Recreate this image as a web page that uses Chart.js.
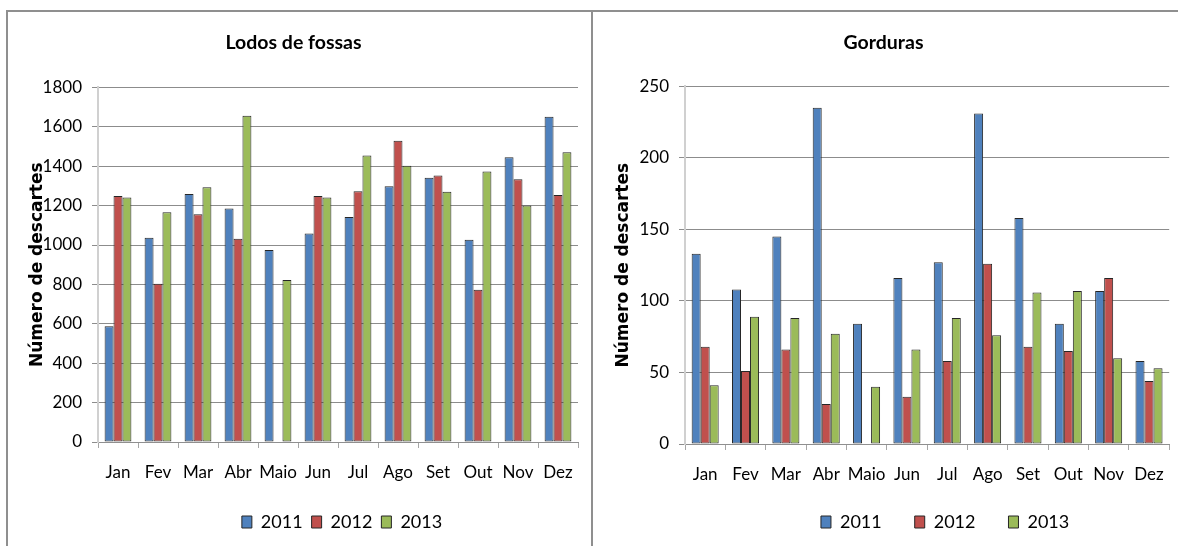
<!DOCTYPE html>
<html>
<head>
<meta charset="utf-8">
<script src="https://cdn.jsdelivr.net/npm/chart.js@4.4.0/dist/chart.umd.min.js"></script>
<style>
  body { margin: 0; background: #fff; width: 1178px; height: 546px; overflow: hidden; position: relative; }
  .line { position: absolute; background: #8f8f8f; }
  canvas { position: absolute; }
</style>
</head>
<body>
<div class="line" style="left:7px;top:10px;width:1171px;height:2px"></div>
<div class="line" style="left:6px;top:10px;width:2px;height:536px"></div>
<div class="line" style="left:591px;top:10px;width:2px;height:536px"></div>
<canvas id="lodos" style="left:9px;top:12px" width="582" height="534"></canvas>
<canvas id="gorduras" style="left:595px;top:12px" width="583" height="534"></canvas>
<script>
const months = ["Jan", "Fev", "Mar", "Abr", "Maio", "Jun", "Jul", "Ago", "Set", "Out", "Nov", "Dez"];
const years = ["2011", "2012", "2013"];

const lodos2011 = [588, 1037, 1259, 1185, 975, 1058, 1142, 1298, 1342, 1027, 1446, 1651];
const lodos2012 = [1249, 803, 1156, 1032, null, 1249, 1273, 1529, 1353, 773, 1334, 1254];
const lodos2013 = [1241, 1166, 1293, 1656, 822, 1241, 1454, 1402, 1270, 1373, 1200, 1471];

const gord2011 = [133, 108, 145, 235, 84, 116, 127, 231, 158, 84, 107, 58];
const gord2012 = [68, 51, 66, 28, null, 33, 58, 126, 68, 65, 116, 44];
const gord2013 = [41, 89, 88, 77, 40, 66, 88, 76, 106, 107, 60, 53];

const lodosTicks = [0, 200, 400, 600, 800, 1000, 1200, 1400, 1600, 1800];
const gordTicks = [0, 50, 100, 150, 200, 250];

const colors = ["#4f81bd", "#c0504d", "#9bbb59"];
const face = "Lato, 'Liberation Sans', sans-serif";

// moves the legend row to a fixed spot after layout (keeps the plot area where it belongs)
const legendPlace = {
  id: "legendPlace",
  afterLayout(chart, args, opts) {
    const lg = chart.legend;
    if (!lg) return;
    const pad = lg.options.labels.padding;
    const dy = opts.rowTop - (lg.top + pad);
    lg.top += dy; lg.bottom += dy;
    lg.left += opts.dx; lg.right += opts.dx;
  }
};

function makeChart(id, title, series, ticks, opt) {
  new Chart(document.getElementById(id), {
    type: "bar",
    data: {
      labels: months,
      datasets: series.map((s, i) => ({
        label: years[i],
        data: s,
        backgroundColor: colors[i],
        borderColor: "#262626",
        borderWidth: 1,
        borderSkipped: false,
        categoryPercentage: 0.67,
        barPercentage: 1.0
      }))
    },
    plugins: [legendPlace],
    options: {
      responsive: false,
      animation: false,
      layout: { padding: { left: 0, right: opt.padRight, top: 0, bottom: opt.padBottom } },
      plugins: {
        title: {
          display: true,
          text: title,
          color: "#000",
          font: { family: face, size: 19.5, weight: "bold" },
          padding: { top: 19, bottom: opt.titleBottom }
        },
        legend: {
          position: "bottom",
          fullSize: false,
          labels: {
            color: "#000",
            font: { family: face, size: 18 },
            boxWidth: 10,
            boxHeight: 12,
            padding: opt.legendPad
          }
        },
        legendPlace: { rowTop: 501, dx: opt.legendDx },
        tooltip: { enabled: false }
      },
      scales: {
        x: {
          grid: { drawOnChartArea: false, drawTicks: true, tickLength: 6, color: "#a6a6a6" },
          border: { color: "#8f8f8f", width: 1 },
          ticks: { color: "#000", font: { family: face, size: 17 }, padding: 14, maxRotation: 0, autoSkip: false },
          afterFit: s => { s.height = opt.xHeight; }
        },
        y: {
          min: 0,
          max: ticks[ticks.length - 1],
          afterBuildTicks: s => { s.ticks = ticks.map(v => ({ value: v })); },
          grid: { color: "#8c8c8c", tickLength: 6, lineWidth: 1 },
          border: { color: "#d0d0d0", width: 2 },
          ticks: { color: "#000", font: { family: face, size: 17 }, padding: 10, callback: v => String(v) },
          title: {
            display: true,
            text: "Número de descartes",
            color: "#000",
            font: { family: "'DejaVu Sans', Verdana, sans-serif", size: 17, weight: "bold" },
            padding: { top: 18, bottom: 0 }
          },
          afterFit: s => { s.width = opt.yWidth; }
        }
      }
    }
  });
}

makeChart("lodos", "Lodos de fossas", [lodos2011, lodos2012, lodos2013], lodosTicks,
  { padRight: 13, padBottom: 4, titleBottom: 33, legendPad: 9, legendDx: 4, xHeight: 63, yWidth: 89 });
makeChart("gorduras", "Gorduras", [gord2011, gord2012, gord2013], gordTicks,
  { padRight: 6, padBottom: -4, titleBottom: 32, legendPad: 33, legendDx: 18, xHeight: 45, yWidth: 90 });
</script>
</body>
</html>
